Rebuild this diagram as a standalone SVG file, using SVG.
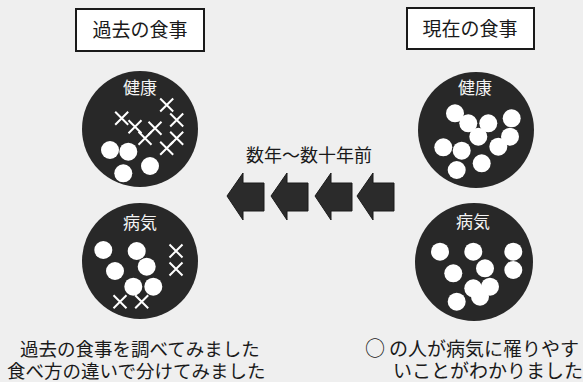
<svg xmlns="http://www.w3.org/2000/svg" width="583" height="382" viewBox="0 0 583 382">
<defs>
<style>
text{font-family:"Noto Sans CJK JP","Noto Sans CJK SC",sans-serif;fill:#1a1a1a}
.title{font-size:19px;text-anchor:middle}
.lbl{font-size:17px;text-anchor:middle;fill:#f4f4f4}
.box{fill:#ffffff;stroke:#1a1a1a;stroke-width:2}
.disc{fill:#282828}
.dot{fill:#ffffff}
.x{stroke:#ffffff;stroke-width:2;fill:none}
.arrow{fill:#2b2b2b;stroke:#1a1a1a;stroke-width:1}
.cap{font-size:18.5px}
.cap2{font-size:19px}
</style>
<g id="xm"><path class="x" d="M-6.5,-6.5L6.5,6.5M6.5,-6.5L-6.5,6.5"/></g>
</defs>
<rect width="583" height="382" fill="#efefef"/>
<g id="title-past">
<rect class="box" x="76" y="9" width="128" height="42"/>
<text class="title" x="140" y="37">過去の食事</text>
</g>
<g id="title-now">
<rect class="box" x="407" y="8" width="127" height="41"/>
<text class="title" x="470" y="36">現在の食事</text>
</g>
<g id="past-healthy">
<circle class="disc" cx="140" cy="129" r="58"/>
<text class="lbl" x="140" y="94">健康</text>
<use href="#xm" x="166.7" y="105"/>
<use href="#xm" x="121.7" y="118.3"/>
<use href="#xm" x="176.7" y="120"/>
<use href="#xm" x="135" y="126.7"/>
<use href="#xm" x="155" y="128.3"/>
<use href="#xm" x="145" y="138.3"/>
<use href="#xm" x="176.7" y="138.3"/>
<use href="#xm" x="166.7" y="148.3"/>
<circle class="dot" cx="110" cy="150" r="9"/>
<circle class="dot" cx="128.3" cy="151.7" r="9"/>
<circle class="dot" cx="123.3" cy="173.3" r="9"/>
<circle class="dot" cx="150" cy="166" r="9"/>
</g>
<g id="past-sick">
<circle class="disc" cx="140" cy="261" r="58"/>
<text class="lbl" x="140" y="229">病気</text>
<circle class="dot" cx="103.3" cy="250" r="9"/>
<circle class="dot" cx="136.7" cy="251" r="9"/>
<circle class="dot" cx="115" cy="271" r="9"/>
<circle class="dot" cx="146.7" cy="266.7" r="9"/>
<circle class="dot" cx="133.3" cy="286.7" r="9"/>
<circle class="dot" cx="153.3" cy="286.7" r="9"/>
<use href="#xm" x="176" y="251"/>
<use href="#xm" x="176" y="269"/>
<use href="#xm" x="120" y="301.7"/>
<use href="#xm" x="141.7" y="301.7"/>
</g>
<g id="now-healthy">
<circle class="disc" cx="476" cy="130" r="58"/>
<text class="lbl" x="475" y="94">健康</text>
<circle class="dot" cx="455" cy="113.3" r="9"/>
<circle class="dot" cx="468.3" cy="123.3" r="9"/>
<circle class="dot" cx="488.3" cy="123.3" r="9"/>
<circle class="dot" cx="511.7" cy="118.3" r="9"/>
<circle class="dot" cx="478.3" cy="136.7" r="9"/>
<circle class="dot" cx="510" cy="136.7" r="9"/>
<circle class="dot" cx="498.3" cy="146.7" r="9"/>
<circle class="dot" cx="443.3" cy="147.3" r="9"/>
<circle class="dot" cx="461.7" cy="150.7" r="9"/>
<circle class="dot" cx="481.7" cy="163.3" r="9"/>
<circle class="dot" cx="456.7" cy="170" r="9"/>
</g>
<g id="now-sick">
<circle class="disc" cx="474" cy="262" r="59"/>
<text class="lbl" x="473" y="228">病気</text>
<circle class="dot" cx="440" cy="251.7" r="9"/>
<circle class="dot" cx="473.3" cy="251.7" r="9"/>
<circle class="dot" cx="513.3" cy="251.7" r="9"/>
<circle class="dot" cx="453.3" cy="273.3" r="9"/>
<circle class="dot" cx="485" cy="268.3" r="9"/>
<circle class="dot" cx="513.3" cy="270" r="9"/>
<circle class="dot" cx="473.3" cy="288.3" r="9"/>
<circle class="dot" cx="490" cy="286.7" r="9"/>
<circle class="dot" cx="480" cy="296.7" r="9"/>
<circle class="dot" cx="456.7" cy="301.7" r="9"/>
</g>
<g id="connectors">
<text x="309" y="162" style="font-size:18px;text-anchor:middle">数年～数十年前</text>
<path class="arrow" d="M227,196L243,173L243,183L264,183L264,211L243,211L243,220Z"/>
<path class="arrow" d="M271,196L287,173L287,183L308,183L308,211L287,211L287,220Z"/>
<path class="arrow" d="M315,196L331,173L331,183L352,183L352,211L331,211L331,220Z"/>
<path class="arrow" d="M357,196L373,173L373,183L394,183L394,211L373,211L373,220Z"/>
</g>
<g id="caption-left">
<text class="cap" x="20" y="356">過去の食事を調べてみました</text>
<text class="cap" x="7" y="378">食べ方の違いで分けてみました</text>
</g>
<g id="caption-right">
<text class="cap2" x="365" y="356" style="font-size:20px">○</text>
<text class="cap2" x="389" y="356">の人が病気に罹りやす</text>
<text class="cap2" x="393" y="378">いことがわかりました</text>
</g>
</svg>
